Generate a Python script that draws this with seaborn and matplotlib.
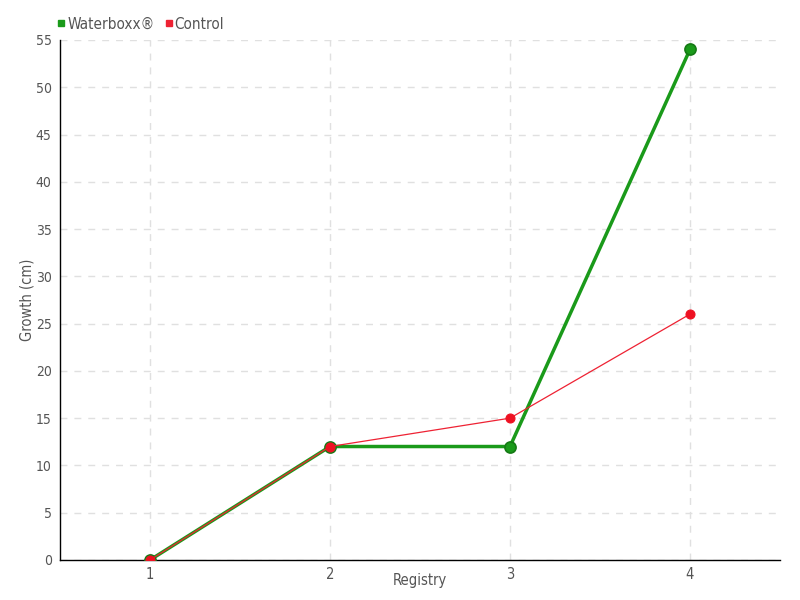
import pandas as pd
import matplotlib
matplotlib.use('Agg')
import matplotlib.pyplot as plt
import seaborn as sns
from matplotlib.lines import Line2D

registry = [1, 2, 3, 4]
waterboxx = [0, 12, 12, 54]
control = [0, 12, 15, 26]
series_names = ['Waterboxx®', 'Control']

df = pd.DataFrame({
    'Registry': registry * 2,
    'Growth': waterboxx + control,
    'series': [series_names[0]] * 4 + [series_names[1]] * 4,
})

sns.set_style('white')
plt.rcParams['font.family'] = ['DejaVu Sans']
plt.rcParams['font.stretch'] = 'condensed'
text_color = '#555555'

fig = plt.figure(figsize=(8, 6), dpi=100)
ax = fig.add_axes([0.075, 0.0667, 0.9, 0.8667])

palette = {series_names[0]: '#1a9a1a', series_names[1]: '#ee2233'}
sns.lineplot(data=df[df['series'] == series_names[0]], x='Registry', y='Growth',
             color=palette[series_names[0]], linewidth=2.5, marker='o', markersize=8,
             markerfacecolor='#1a9a1a', markeredgecolor='#157a15', markeredgewidth=1.2,
             ax=ax, zorder=3)
sns.lineplot(data=df[df['series'] == series_names[1]], x='Registry', y='Growth',
             color=palette[series_names[1]], linewidth=0.9, marker='o', markersize=6.5,
             markerfacecolor='#ee1122', markeredgecolor='#ee1122',
             ax=ax, zorder=4)

ax.set_xlim(0.5, 4.5)
ax.set_ylim(0, 55)
ax.set_xticks(registry)
ax.set_yticks(range(0, 56, 5))
ax.grid(True, color='#e0e0e0', linestyle=(0, (5, 5)), linewidth=1)
ax.set_axisbelow(True)
for s in ['top', 'right']:
    ax.spines[s].set_visible(False)
for s in ['left', 'bottom']:
    ax.spines[s].set_color('black')
    ax.spines[s].set_linewidth(1)
ax.tick_params(axis='both', direction='out', length=5, color='#555555', labelcolor=text_color, labelsize=10.5)
ax.tick_params(axis='x', pad=0)
ax.tick_params(axis='y', pad=1, labelsize=10)
ax.set_xlabel('Registry', color=text_color, fontsize=10.5)
ax.set_ylabel('Growth (cm)', color=text_color, fontsize=10.5)
ax.xaxis.set_label_coords(0.5, -0.025)
ax.yaxis.set_label_coords(-0.046, 0.5)
ax.xaxis.label.set_va('top')
ax.yaxis.label.set_va('center')

handles = [Line2D([], [], marker='s', linestyle='', color=palette[n], markersize=4.5) for n in series_names]
leg = fig.legend(handles, series_names, loc='upper left', bbox_to_anchor=(0.052, 0.995),
                 ncol=2, frameon=False, fontsize=11, handletextpad=0.0, columnspacing=0.5,
                 handlelength=0.8)
for t in leg.get_texts():
    t.set_color(text_color)

fig.savefig('out.png', dpi=100)
